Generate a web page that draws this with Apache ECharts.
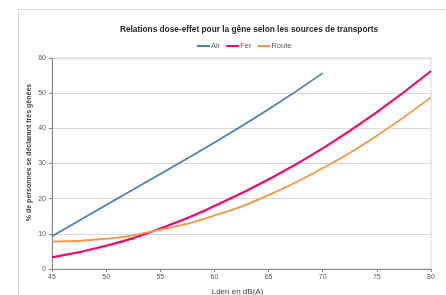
<!DOCTYPE html>
<html>
<head>
<meta charset="utf-8">
<script src="https://cdn.jsdelivr.net/npm/echarts@6/dist/echarts.min.js"></script>
<style>
  html, body { margin: 0; padding: 0; background: #fff; }
  #chart { width: 446px; height: 295px; }
</style>
</head>
<body>
<div id="chart"></div>
<script>
  // niveaux Lden (dB(A))
  const lden = [45, 50, 55, 60, 65, 70, 75, 80]
  // % de personnes très gênées
  const air = [9.3, 18.2, 27.0, 36.0, 45.4, 55.7]
  const fer = [3.3, 6.6, 11.5, 17.9, 25.5, 34.3, 44.6, 56.3]
  const route = [7.8, 8.6, 11.2, 15.2, 21.0, 28.7, 37.9, 48.8]

  const pairs = (vals) => vals.map((v, i) => [lden[i], v])

  let myChart = echarts.init(document.getElementById('chart'))
  const font = "'Liberation Sans', sans-serif"

  myChart.setOption({
    animation: false,
    textStyle: { fontFamily: font },
    title: {
      text: 'Relations dose-effet pour la gêne selon les sources de transports',
      left: 244,
      top: 21,
      textAlign: 'center',
      textStyle: { fontSize: 8.3, fontWeight: 'bold', color: '#262626', fontFamily: font }
    },
    legend: {
      top: 37,
      left: 192,
      itemWidth: 13,
      itemHeight: 2,
      itemGap: 6,
      icon: 'rect',
      textStyle: { fontSize: 7.5, color: '#595959', padding: [0, 0, 0, -4] },
      data: ['Air', 'Fer', 'Route']
    },
    graphic: [{
      type: 'rect',
      shape: { x: 18.5, y: 9.5, width: 440, height: 300 },
      style: { fill: 'none', stroke: '#d9d9d9', lineWidth: 1 },
      silent: true,
      z: -1
    }],
    grid: {
      left: 52,
      right: 15,
      top: 58,
      bottom: 26,
      outerBoundsMode: 'none',
      show: true,
      borderColor: '#d9d9d9',
      borderWidth: 1
    },
    xAxis: {
      type: 'value',
      min: 45,
      max: 80,
      interval: 5,
      name: 'Lden en dB(A)',
      nameLocation: 'middle',
      nameGap: 19,
      nameTextStyle: { fontSize: 8, color: '#404040', padding: [0, 8, 0, 0] },
      axisLine: { lineStyle: { color: '#868686' } },
      axisTick: { show: true, length: 3, lineStyle: { color: '#868686' } },
      axisLabel: { fontSize: 7, color: '#595959', margin: 5 },
      splitLine: { show: false }
    },
    yAxis: {
      type: 'value',
      min: 0,
      max: 60,
      interval: 10,
      name: '% de personnes se déclarant très gênées',
      nameLocation: 'middle',
      nameGap: 19,
      nameMoveOverlap: false,
      nameTextStyle: { fontSize: 7, color: '#404040', fontWeight: 'bold', padding: [0, 0, 0, 22] },
      axisLine: { show: true, lineStyle: { color: '#868686' } },
      axisTick: { show: true, length: 3, lineStyle: { color: '#868686' } },
      axisLabel: { fontSize: 7, color: '#595959', margin: 6 },
      splitLine: { lineStyle: { color: '#d9d9d9' } }
    },
    series: [
      {
        name: 'Air', type: 'line', data: pairs(air), smooth: true,
        symbol: 'none', lineStyle: { width: 1.8, color: '#4a7ebb' }, itemStyle: { color: '#4a7ebb' }
      },
      {
        name: 'Fer', type: 'line', data: pairs(fer), smooth: true,
        symbol: 'none', lineStyle: { width: 2.2, color: '#ff0066' }, itemStyle: { color: '#ff0066' }
      },
      {
        name: 'Route', type: 'line', data: pairs(route), smooth: true,
        symbol: 'none', lineStyle: { width: 1.8, color: '#f79646' }, itemStyle: { color: '#f79646' }
      }
    ]
  })
</script>
</body>
</html>
